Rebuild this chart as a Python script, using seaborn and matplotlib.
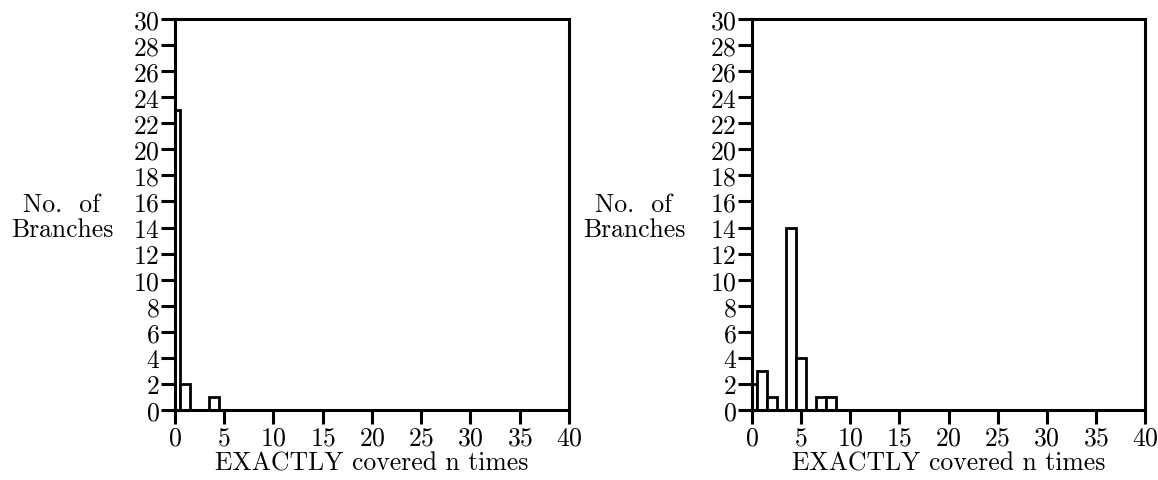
import matplotlib
matplotlib.use("Agg")
import matplotlib.pyplot as plt
import seaborn as sns
import pandas as pd

# Branch coverage histograms: how many branches were covered exactly n times
n_times_left = [0, 1, 4]
branches_left = [23, 2, 1]

n_times_right = [0, 1, 2, 4, 5, 7, 8]
branches_right = [2, 3, 1, 14, 4, 1, 1]

x_ticks = list(range(0, 41, 5))
y_ticks = list(range(0, 31, 2))
x_label = "EXACTLY covered n times"
y_label = "No.  of\nBranches"

sns.set_theme(style="ticks")
plt.rcParams["font.family"] = ["cmr10", "DejaVu Serif"]
plt.rcParams["axes.formatter.use_mathtext"] = True
plt.rcParams["text.color"] = "black"
plt.rcParams["axes.labelcolor"] = "black"

fig = plt.figure(figsize=(11.58, 4.81), dpi=100)
ax_left = fig.add_axes([0.1511, 0.1455, 0.3402, 0.8129])
ax_right = fig.add_axes([0.6494, 0.1455, 0.3394, 0.8129])

panels = [
    (ax_left, n_times_left, branches_left, 62),
    (ax_right, n_times_right, branches_right, 634),
]

for ax, xs, counts, label_px in panels:
    df = pd.DataFrame({"n": xs, "count": counts})
    sns.histplot(data=df, x="n", weights="count", discrete=True, ax=ax,
                 color="white", edgecolor="black", linewidth=2.0, alpha=1.0)
    ax.set_xlim(0, 40)
    ax.set_ylim(0, 30)
    ax.set_xticks(x_ticks)
    ax.set_yticks(y_ticks)
    ax.tick_params(axis="both", direction="out", length=10, width=2.2,
                   labelsize=18.5, pad=1, colors="black", labelcolor="black")
    for side in ["left", "right", "top", "bottom"]:
        ax.spines[side].set_visible(True)
        ax.spines[side].set_linewidth(2.2)
        ax.spines[side].set_color("black")
    ax.set_xlabel(x_label, fontsize=18.5, labelpad=1, color="black")
    ax.set_ylabel(y_label, fontsize=18.5, rotation=0, ha="center", va="center",
                  linespacing=1.05, color="black")
    # place the y label center at a fixed pixel column, mid-height
    pos = ax.get_position()
    x_axes = (label_px / 1158 - pos.x0) / pos.width
    ax.yaxis.set_label_coords(x_axes, 0.495)
    ax.set_facecolor("white")

fig.savefig("out.png", dpi=100, facecolor="white")
